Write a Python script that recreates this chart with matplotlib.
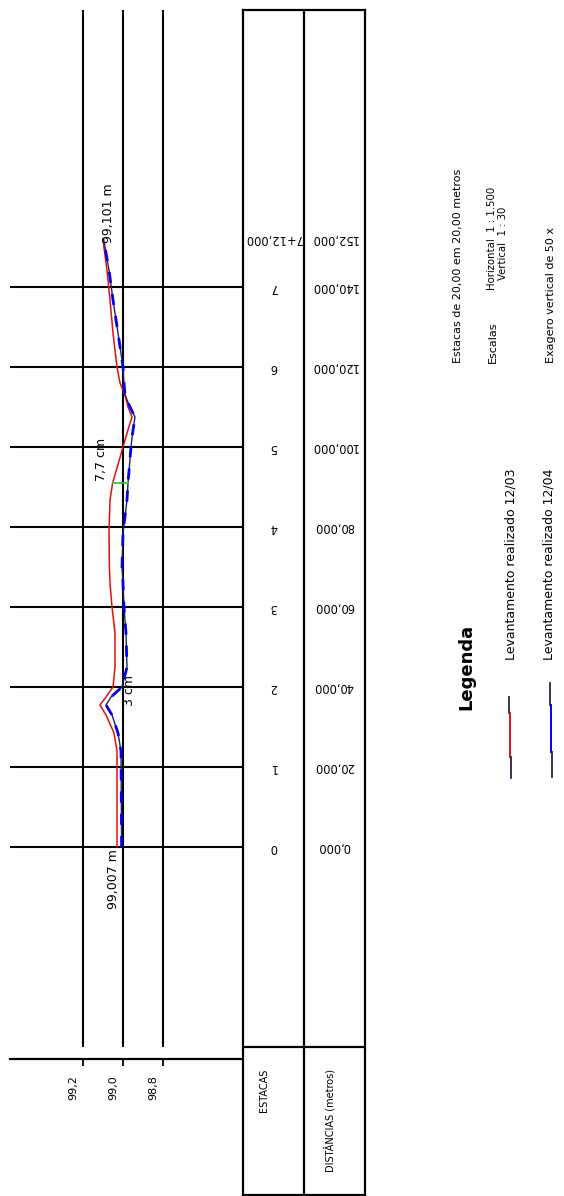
import matplotlib
matplotlib.use("Agg")
import matplotlib.pyplot as plt
from matplotlib.lines import Line2D
from matplotlib.transforms import ScaledTranslation

# ── Survey data (distance along the profile in m, elevation in m) ───────────
DIST = [0, 24, 28.5, 33, 35.5, 37.5, 40, 45, 53.5, 60, 66, 70, 78.5, 86.75,
        91, 97, 100, 103.5, 107.5, 110, 113, 116, 120, 128.5, 136.75, 144.25, 152]
ELEV_1203 = [99.03, 99.03, 99.045, 99.085, 99.115, 99.085, 99.05, 99.04, 99.04,
             99.055, 99.065, 99.068, 99.07, 99.065, 99.052, 99.017, 99.0, 98.98,
             98.955, 98.975, 98.99, 99.015, 99.03, 99.05, 99.065, 99.08, 99.101]
ELEV_1204 = [99.007, 99.01, 99.025, 99.055, 99.085, 99.06, 99.005, 98.98, 98.985,
             98.995, 99.0, 99.005, 99.0, 98.98, 98.975, 98.965, 98.96, 98.952,
             98.94, 98.965, 98.99, 98.995, 99.0, 99.025, 99.05, 99.07, 99.097]

STATION_DIST = [0, 20, 40, 60, 80, 100, 120, 140, 152]
STATION_LABELS = ["0", "1", "2", "3", "4", "5", "6", "7", "7+12,000"]
DIST_LABELS = ["0,000", "20,000", "40,000", "60,000", "80,000", "100,000",
               "120,000", "140,000", "152,000"]

ELEV_TICKS = [99.2, 99.0, 98.8]
ELEV_TICK_LABELS = ["99,2", "99,0", "98,8"]

GAP_INDEX = DIST.index(91)      # where the 7,7 cm difference is marked
PEAK_INDEX = DIST.index(35.5)   # where the 3 cm difference is marked

W, H = 564, 1196
fig = plt.figure(figsize=(W / 100, H / 100), dpi=100)
fig.patch.set_facecolor("white")


def fx(px):
    return px / W


def fy(py):
    return 1 - py / H


# ── Profile (drawing is turned: distance runs up, elevation grows to the left)
ax = fig.add_axes([fx(10), fy(1047), 233 / W, 1037 / H])
ax.set_xlim(99.565, 98.4)
ax.set_ylim(-50, 209.25)
for s in ("top", "right", "left"):
    ax.spines[s].set_visible(False)
ax.spines["bottom"].set_position(("outward", 8.6))
ax.spines["bottom"].set_linewidth(1.6)
ax.set_yticks([])
ax.set_xticks(ELEV_TICKS)
ax.set_xticklabels(ELEV_TICK_LABELS, rotation=90, fontsize=8)
ax.tick_params(axis="x", length=5, width=1.3, pad=6.5, direction="out")
for lab in ax.get_xticklabels():
    lab.set_transform(lab.get_transform() + ScaledTranslation(-0.10, 0, fig.dpi_scale_trans))

for e in ELEV_TICKS:
    ax.axvline(e, color="black", lw=1.5, zorder=1)
for d in STATION_DIST[:-1]:
    ax.axhline(d, color="black", lw=1.5, zorder=1)

ax.plot(ELEV_1203, DIST, color="#e01010", lw=1.1, zorder=3)
ax.plot(ELEV_1204, DIST, color="#202060", lw=1.0, zorder=3)
ax.plot(ELEV_1204, DIST, color="#0000ee", lw=2.0, dashes=(4, 4), zorder=4)

# difference marks
ax.plot([ELEV_1203[GAP_INDEX], ELEV_1204[GAP_INDEX]], [DIST[GAP_INDEX]] * 2,
        color="#33cc33", lw=1.3, zorder=5)
gap_cm = (ELEV_1203[GAP_INDEX] - ELEV_1204[GAP_INDEX]) * 100
ax.annotate(f"{gap_cm:.1f} cm".replace(".", ","),
            (ELEV_1203[GAP_INDEX], DIST[GAP_INDEX]), xytext=(-11, 2),
            textcoords="offset pixels", rotation=90, fontsize=9,
            ha="center", va="bottom")
peak_cm = (ELEV_1203[PEAK_INDEX] - ELEV_1204[PEAK_INDEX]) * 100
ax.annotate(f"{peak_cm:.0f} cm", (ELEV_1204[PEAK_INDEX], DIST[PEAK_INDEX]),
            xytext=(23, 14), textcoords="offset pixels", rotation=90,
            fontsize=9, ha="center", va="center")

ax.annotate(f"{ELEV_1204[0]:.3f} m".replace(".", ","), (ELEV_1204[0], DIST[0]),
            xytext=(-8, -2), textcoords="offset pixels", rotation=90,
            fontsize=9, ha="center", va="top")
ax.annotate(f"{ELEV_1203[-1]:.3f} m".replace(".", ","), (ELEV_1203[-1], DIST[-1]),
            xytext=(6, -4), textcoords="offset pixels", rotation=90,
            fontsize=9, ha="center", va="bottom")

# ── Stations / distances table ──────────────────────────────────────────────
tab = fig.add_axes([fx(243), fy(1195), 122 / W, 1185 / H])
tab.set_xlim(0, 2)
tab.set_ylim(-87, 209.25)
tab.set_xticks([])
tab.set_yticks([])
for s in tab.spines.values():
    s.set_linewidth(1.6)
tab.axvline(1, color="black", lw=1.6)
tab.axhline(-50, color="black", lw=1.6)

for d, st, dl in zip(STATION_DIST, STATION_LABELS, DIST_LABELS):
    tab.text(0.5, d, st, rotation=180, ha="center", va="center", fontsize=8.3)
    tab.text(1.49, d, dl, rotation=180, ha="center", va="center", fontsize=8.3)

tab.text(0.35, -60.75, "ESTACAS", rotation=90, ha="center", va="center", fontsize=7)
tab.text(1.43, -68.5, "DISTÂNCIAS (metros)", rotation=90, ha="center",
         va="center", fontsize=7)

# ── Legend and notes ────────────────────────────────────────────────────────
fig.text(fx(466), fy(710), "Legenda", rotation=90, ha="center", va="bottom",
         fontsize=13, fontweight="bold")


def legend_key(x, y_top, y_mid0, y_mid1, y_bot, color):
    # dark ends with the series colour in the middle, as in the CAD legend
    fig.add_artist(Line2D([fx(x), fx(x)], [fy(y_top), fy(y_mid0)], color="#302040", lw=1.3))
    fig.add_artist(Line2D([fx(x + 1), fx(x + 1)], [fy(y_mid0), fy(y_mid1)], color=color, lw=1.4))
    fig.add_artist(Line2D([fx(x + 2), fx(x + 2)], [fy(y_mid1), fy(y_bot)], color="#302040", lw=1.3))


legend_key(509, 697, 713, 757, 778, "#e01010")
legend_key(550, 683, 705, 752, 777, "#0000ee")
fig.text(fx(511), fy(660), "Levantamento realizado 12/03", rotation=90,
         ha="center", va="bottom", fontsize=9)
fig.text(fx(549), fy(660), "Levantamento realizado 12/04", rotation=90,
         ha="center", va="bottom", fontsize=9)

fig.text(fx(458), fy(363), "Estacas de 20,00 em 20,00 metros", rotation=90,
         ha="center", va="bottom", fontsize=8)
fig.text(fx(493), fy(363), "Escalas", rotation=90, ha="center", va="bottom", fontsize=8)
fig.text(fx(492), fy(290), "Horizontal  1 : 1.500", rotation=90, ha="center",
         va="bottom", fontsize=7.3)
fig.text(fx(503), fy(280), "Vertical  1 : 30", rotation=90, ha="center",
         va="bottom", fontsize=7.3)
fig.text(fx(551), fy(363), "Exagero vertical de 50 x", rotation=90,
         ha="center", va="bottom", fontsize=8)

fig.savefig("out.png", dpi=100)
